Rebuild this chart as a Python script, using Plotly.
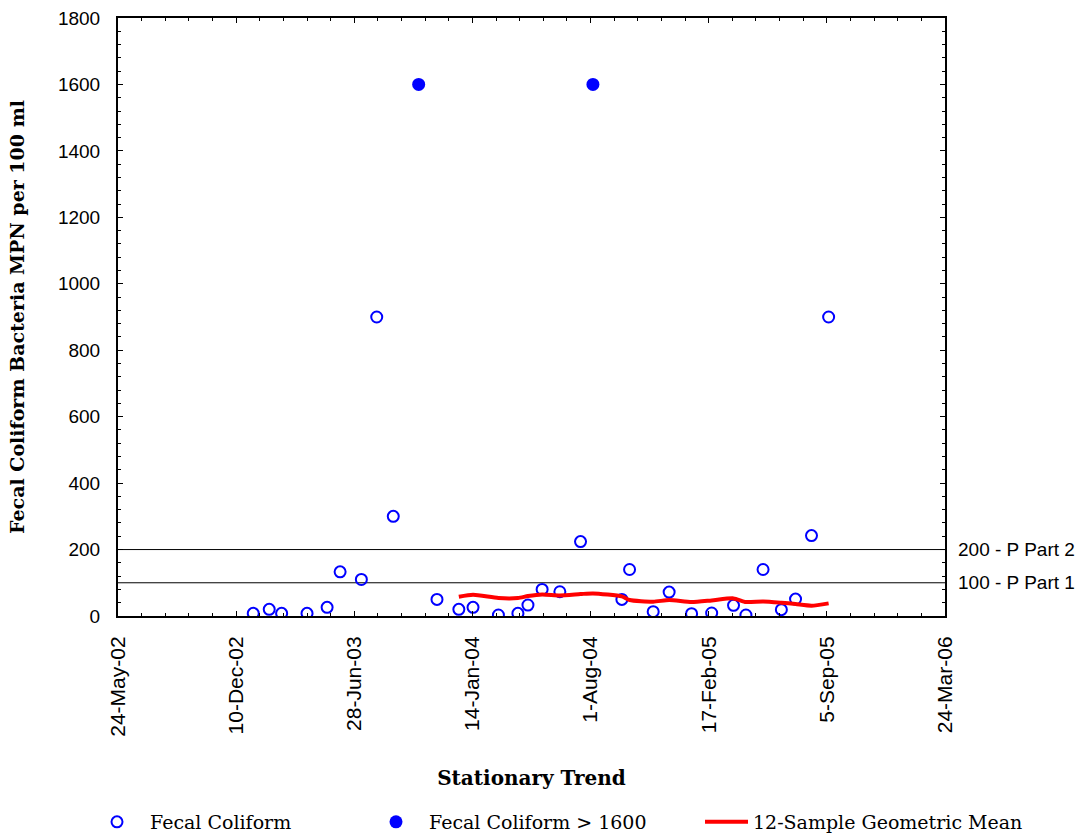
import plotly.graph_objects as go

# Fecal coliform samples (MPN per 100 ml)
sample_dates = [
    "2003-01-08", "2003-02-04", "2003-02-25", "2003-04-09", "2003-05-13",
    "2003-06-04", "2003-07-10", "2003-08-05", "2003-09-02", "2003-11-15",
    "2003-12-22", "2004-01-15", "2004-02-27", "2004-03-31", "2004-04-17",
    "2004-05-11", "2004-06-10", "2004-07-15", "2004-09-23", "2004-10-06",
    "2004-11-15", "2004-12-12", "2005-01-19", "2005-02-22", "2005-03-31",
    "2005-04-21", "2005-05-20", "2005-06-20", "2005-07-14", "2005-08-10",
    "2005-09-08",
]
sample_values = [
    8, 20, 8, 8, 26,
    133, 110, 900, 300, 50,
    20, 26, 3, 8, 33,
    80, 73, 224, 50, 140,
    13, 72, 7, 9, 32,
    3, 140, 19, 51, 242,
    900,
]

# Samples at the upper detection limit
capped_dates = ["2003-10-15", "2004-08-05"]
capped_values = [1600, 1600]

# Rolling 12-sample geometric mean
geomean_dates = [
    "2003-12-22", "2004-01-15", "2004-02-27", "2004-03-31", "2004-04-17",
    "2004-05-11", "2004-06-10", "2004-07-15", "2004-08-05", "2004-09-23",
    "2004-10-06", "2004-11-15", "2004-12-12", "2005-01-19", "2005-02-22",
    "2005-03-31", "2005-04-21", "2005-05-20", "2005-06-20", "2005-07-14",
    "2005-08-10", "2005-09-08",
]
geomean_values = [
    58, 64, 54, 54, 60,
    65, 62, 66, 68, 59,
    48, 43, 48, 42, 47,
    53, 42, 44, 40, 36,
    31, 38,
]

# Regulatory thresholds
threshold_values = [200, 100]
threshold_labels = ["200 - P Part 2", "100 - P Part 1"]

DAY_MS = 86400000
SANS = "Liberation Sans, Arial, sans-serif"
SERIF = "DejaVu Serif, serif"

fig = go.Figure()

fig.add_trace(go.Scatter(
    x=sample_dates, y=sample_values, mode="markers",
    name="Fecal Coliform",
    marker=dict(symbol="circle-open", size=11, color="#0000FF",
                line=dict(width=2, color="#0000FF")),
    legend="legend",
))
fig.add_trace(go.Scatter(
    x=capped_dates, y=capped_values, mode="markers",
    name="Fecal Coliform > 1600",
    marker=dict(symbol="circle", size=13, color="#0000FF"),
    legend="legend2",
))
fig.add_trace(go.Scatter(
    x=geomean_dates, y=geomean_values, mode="lines",
    name="12-Sample Geometric Mean",
    line=dict(color="#FF0000", width=4, shape="spline", smoothing=0.6),
    legend="legend3",
))

for v, lab in zip(threshold_values, threshold_labels):
    fig.add_shape(type="line", xref="paper", yref="y", x0=0, x1=1, y0=v, y1=v,
                  line=dict(color="#000000", width=1), layer="below")
    fig.add_annotation(xref="paper", yref="y", x=1.0, y=v, xanchor="left",
                       xshift=11, text=lab, showarrow=False,
                       font=dict(family=SANS, size=19, color="black"))

legend_common = dict(orientation="h", xref="container", yref="container",
                     yanchor="middle", bgcolor="rgba(0,0,0,0)",
                     font=dict(family=SERIF, size=19, color="black"))
legend_y = 1 - 822 / 834

fig.update_layout(
    width=1086, height=834,
    margin=dict(l=118, r=141, t=18, b=218, autoexpand=False),
    paper_bgcolor="white", plot_bgcolor="white",
    showlegend=True,
    legend=dict(x=84 / 1086, y=legend_y, itemwidth=56, **legend_common),
    legend2=dict(x=363 / 1086, y=legend_y, itemwidth=56, **legend_common),
    legend3=dict(x=700 / 1086, y=legend_y, itemwidth=43, **legend_common),
    xaxis=dict(
        type="date", range=["2002-05-24", "2006-03-24"],
        tick0="2002-05-24", dtick=200 * DAY_MS, tickformat="%-d-%b-%y",
        tickangle=-90, ticks="inside", ticklen=5, tickwidth=1, tickcolor="black",
        minor=dict(tick0="2002-05-24", dtick=40 * DAY_MS, ticks="inside",
                   ticklen=3, tickcolor="black"),
        showline=True, linewidth=2, linecolor="black", mirror="ticks",
        showgrid=False, zeroline=False, automargin=False,
        tickfont=dict(family=SANS, size=21, color="black"),
        ticklabelstandoff=10,
        title=dict(text="Stationary Trend", standoff=35,
                   font=dict(family=SERIF, size=20, color="black", weight="bold")),
    ),
    yaxis=dict(
        range=[0, 1800], dtick=200,
        ticks="inside", ticklen=5, tickwidth=1, tickcolor="black",
        minor=dict(dtick=40, ticks="inside", ticklen=3, tickcolor="black"),
        showline=True, linewidth=2, linecolor="black", mirror="ticks",
        showgrid=False, zeroline=False, automargin=False,
        tickfont=dict(family=SANS, size=19, color="black"),
        ticklabelstandoff=12,
        title=dict(text="Fecal Coliform Bacteria MPN per 100 ml", standoff=28,
                   font=dict(family=SERIF, size=19, color="black", weight="bold")),
    ),
)

fig.write_html("out.html")
